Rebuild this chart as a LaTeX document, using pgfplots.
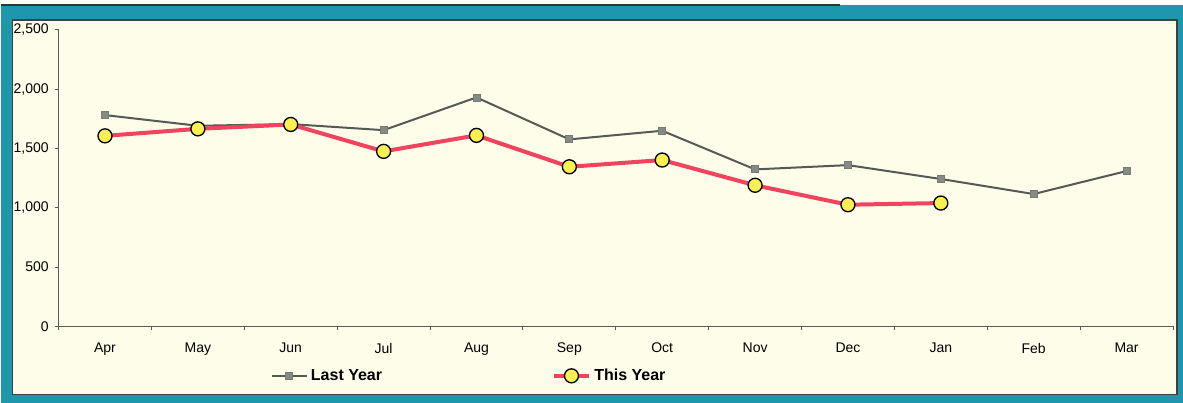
\documentclass[border=0pt]{standalone}
\usepackage{fontspec}
\setmainfont{Liberation Sans}
\usepackage{pgfplots}
\pgfplotsset{compat=1.18}

\definecolor{frameteal}{HTML}{1E96AC}
\definecolor{cream}{HTML}{FEFDE9}
\definecolor{axisgray}{HTML}{5A5A5A}
\definecolor{lastgray}{HTML}{555A55}
\definecolor{markgray}{HTML}{858A85}
\definecolor{thisred}{HTML}{F0445E}
\definecolor{dotyellow}{HTML}{FAF050}

\pgfplotstableread{
idx lastyear
0  1782
1  1692
2  1706
3  1655
4  1931
5  1577
6  1650
7  1324
8  1360
9  1243
10 1116
11 1310
}\lastyear

\pgfplotstableread{
idx thisyear
0  1607
1  1666
2  1703
3  1476
4  1611
5  1346
6  1403
7  1190
8  1026
9  1040
}\thisyear

\begin{document}
\begin{tikzpicture}
% frame: white strip, teal surround, cream panel
\fill[white] (0pt,0pt) rectangle (709.8pt,241.8pt);
\fill[frameteal] (0pt,0pt) rectangle (709.8pt,238.8pt);
\draw[black!80, line width=0.7pt] (0pt,238.8pt) -- (504pt,238.8pt);
\filldraw[fill=cream, draw=black!75, line width=0.7pt] (7.2pt,4.8pt) rectangle (706.2pt,229.8pt);

\begin{axis}[
    at={(34.8pt,45.9pt)}, anchor=south west,
    scale only axis,
    width=669pt, height=177.9pt,
    xmin=-0.5, xmax=11.5,
    ymin=0, ymax=2500,
    axis lines*=left,
    axis line style={axisgray, line width=0.6pt},
    tick align=outside,
    xtick={0,...,11},
    xticklabels={Apr,May,Jun,Jul,Aug,Sep,Oct,Nov,Dec,Jan,Feb,Mar},
    major x tick style={draw=none},
    minor xtick={-0.5,0.5,...,11.5},
    minor x tick style={axisgray, line width=0.6pt},
    minor tick length=2.4pt,
    ytick={0,500,...,2500},
    major y tick style={axisgray, line width=0.6pt},
    major tick length=2.4pt,
    xticklabel style={font=\fontsize{8.4}{10}\selectfont, yshift=-4pt},
    yticklabel style={font=\fontsize{8.4}{10}\selectfont},
    /pgf/number format/.cd, 1000 sep={,}, assume math mode=true,
    /pgfplots/.cd,
    legend columns=2,
    legend style={
        at={(0.190,-0.167)}, anchor=west,
        draw=none, fill=none,
        font=\bfseries\fontsize{9.6}{11}\selectfont,
        /tikz/every even column/.append style={column sep=100pt},
        inner sep=0pt,
    },
    legend image code/.code={
        \draw[mark repeat=2, mark phase=2, #1]
            plot coordinates {(0pt,0pt) (10.5pt,0pt) (21pt,0pt)};
    },
]
\addplot[lastgray, line width=1.2pt, mark=square*,
    mark size=2.1pt, mark options={fill=markgray, draw=lastgray!80, line width=0.5pt}]
    table[x=idx, y=lastyear] {\lastyear};
\addlegendentry{Last Year}
\addplot[thisred, line width=2.4pt, mark=*,
    mark size=4.2pt, mark options={fill=dotyellow, draw=black, line width=0.8pt}]
    table[x=idx, y=thisyear] {\thisyear};
\addlegendentry{This Year}
\end{axis}
\end{tikzpicture}
\end{document}
